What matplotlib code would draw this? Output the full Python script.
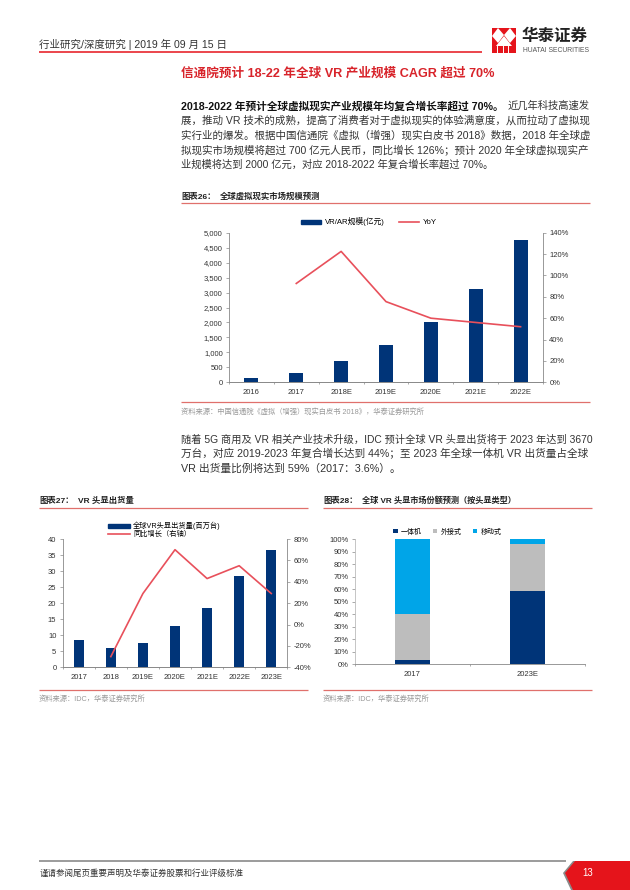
import matplotlib
matplotlib.use("Agg")
import matplotlib.pyplot as plt
from matplotlib.lines import Line2D
from matplotlib.patches import Polygon, Patch
from matplotlib.ticker import FuncFormatter

W, H = 630, 890
NAVY = "#003478"
LINE_RED = "#e8505b"
RULE_RED = "#e0706c"
GRAY_BAR = "#bdbdbd"
SKY = "#00a5e8"
TICK = "#333333"
FONT = ["Liberation Sans", "Noto Sans CJK SC"]

# figure 26
years26 = ["2016", "2017", "2018E", "2019E", "2020E", "2021E", "2022E"]
market = [150, 320, 700, 1250, 2000, 3120, 4750]
yoy26 = [None, 92.5, 122.5, 75.5, 60, 56, 52]

# figure 27
years27 = ["2017", "2018", "2019E", "2020E", "2021E", "2022E", "2023E"]
shipments = [8.4, 6.0, 7.6, 13.0, 18.4, 28.5, 36.7]
yoy27 = [None, -30, 29, 70, 43, 55, 29]

# figure 28
years28 = ["2017", "2023E"]
standalone = [3.6, 59]
tethered = [36.4, 37]
mobile = [60, 4]

header = "行业研究/深度研究 | 2019 年 09 月 15 日"
title = "信通院预计 18-22 年全球 VR 产业规模 CAGR 超过 70%"
para1_bold = "2018-2022 年预计全球虚拟现实产业规模年均复合增长率超过 70%。"
para1_tail = "近几年科技高速发"
para1 = [
    "展，推动 VR 技术的成熟，提高了消费者对于虚拟现实的体验满意度，从而拉动了虚拟现",
    "实行业的爆发。根据中国信通院《虚拟（增强）现实白皮书 2018》数据，2018 年全球虚",
    "拟现实市场规模将超过 700 亿元人民币，同比增长 126%；预计 2020 年全球虚拟现实产",
    "业规模将达到 2000 亿元，对应 2018-2022 年复合增长率超过 70%。",
]
para2 = [
    "随着 5G 商用及 VR 相关产业技术升级，IDC 预计全球 VR 头显出货将于 2023 年达到 3670",
    "万台，对应 2019-2023 年复合增长达到 44%；至 2023 年全球一体机 VR 出货量占全球",
    "VR 出货量比例将达到 59%（2017：3.6%）。",
]

fig = plt.figure(figsize=(W / 100, H / 100), dpi=100)
page = fig.add_axes([0, 0, 1, 1])
page.set_xlim(0, W)
page.set_ylim(H, 0)
page.axis("off")


def put(x, y, s, size=5.2, color="#333333", width=None, **kw):
    # y is the vertical centre in page pixels; width squeezes the text to a pixel span
    t = page.text(x, y, s, fontsize=size, color=color, family=FONT, va="center", **kw)
    if width:
        box = t.get_window_extent(fig.canvas.get_renderer())
        t.set_fontsize(size * width / box.width)
    return t


def rule(x0, x1, y, color=RULE_RED, lw=0.9):
    page.plot([x0, x1], [y, y], color=color, lw=lw, solid_capstyle="butt")


def make_axes(left, right, top, bottom):
    return fig.add_axes([left / W, 1 - bottom / H, (right - left) / W, (bottom - top) / H])


def style(ax, labels):
    ax.set_xlim(-0.5, len(labels) - 0.5)
    ax.set_xticks(range(len(labels)))
    ax.set_xticklabels(labels, fontsize=5.5, color=TICK, family=FONT)
    ax.set_xticks([i - 0.5 for i in range(len(labels) + 1)], minor=True)
    ax.tick_params(axis="x", which="major", length=0, pad=5)
    ax.tick_params(axis="x", which="minor", length=1.5, color="#888888", width=0.5)
    ax.tick_params(axis="y", length=2, color="#888888", width=0.5, labelsize=5.5, labelcolor=TICK, pad=2.5)
    for side in ax.spines:
        ax.spines[side].set_color("#888888")
        ax.spines[side].set_linewidth(0.6)
    ax.spines["top"].set_visible(False)
    for lab in ax.get_yticklabels():
        lab.set_family(FONT)


def line_points(values):
    xs = [i for i, v in enumerate(values) if v is not None]
    return xs, [values[i] for i in xs]


# header and logo
put(39, 44, header, size=6.2, width=188)
rule(39, 482, 52, color="#e5141b", lw=1.1)
page.add_patch(Polygon([(492, 28), (516, 28), (516, 53), (492, 53)], color="#e5141b", lw=0))
page.add_patch(Polygon([(498, 28), (504, 35), (498, 43), (492, 36)], color="white", lw=0))
page.add_patch(Polygon([(510, 28), (516, 36), (510, 43), (504, 35)], color="white", lw=0))
page.add_patch(Polygon([(504, 36), (512, 46), (496, 46)], color="white", lw=0))
for x in (497, 502.5, 508):
    page.plot([x, x], [46, 53], color="white", lw=0.7)
put(522, 36, "华泰证券", size=12, color="#222222", width=66, fontweight="bold")
put(523, 50, "HUATAI SECURITIES", size=5, color="#555555", width=67)

put(181, 74, title, size=9, color="#d8232a", width=312, fontweight="bold")

# first paragraph, first line is part bold
put(181, 106, para1_bold, size=7.6, color="#111111", width=322, fontweight="bold")
put(508, 106, para1_tail, size=7.6, color="#333333", width=82)
for s, y, w in zip(para1, [120, 135, 150, 165], [407, 407, 407, 311]):
    put(181, y, s, size=7.6, width=w)

# figure 26
put(181, 197, "图表26：", size=6, color="#222222", fontweight="bold")
put(220, 197, "全球虚拟现实市场规模预测", size=6, color="#222222", width=101, fontweight="bold")
rule(181, 590, 203)
ax = make_axes(229, 543, 232.7, 382.3)
ax.bar(range(7), market, width=0.31, color=NAVY)
ax.set_ylim(0, 5000)
ax.set_yticks(range(0, 5001, 500))
ax.yaxis.set_major_formatter(FuncFormatter(lambda v, _: f"{int(v):,}"))
style(ax, years26)
ax2 = ax.twinx()
ax2.plot(*line_points(yoy26), color=LINE_RED, lw=1.2)
ax2.set_ylim(0, 140)
ax2.set_yticks(range(0, 141, 20))
ax2.yaxis.set_major_formatter(FuncFormatter(lambda v, _: f"{int(v)}%"))
style(ax2, years26)
ax2.spines["left"].set_visible(False)
ax.spines["right"].set_visible(False)
ax.legend(
    [Patch(color=NAVY), Line2D([], [], color=LINE_RED, lw=1.2)],
    ["VR/AR规模(亿元)", "YoY"],
    ncol=2, frameon=False, prop={"family": FONT, "size": 5.6},
    loc="center", bbox_to_anchor=(369 / W, 1 - 222 / H), bbox_transform=fig.transFigure,
    handlelength=2.6, handleheight=0.45, handletextpad=0.5, columnspacing=1.8,
)
rule(181, 590, 402)
put(181, 412, "资料来源：中国信通院《虚拟（增强）现实白皮书 2018》，华泰证券研究所", size=5, color="#999999", width=247)

# second paragraph
for s, y, w in zip(para2, [440, 454, 469], [407, 407, 219]):
    put(181, y, s, size=7.6, width=w)

# figure 27
put(39, 501, "图表27：", size=6, color="#222222", fontweight="bold")
put(78, 501, "VR 头显出货量", size=6, color="#222222", width=56, fontweight="bold")
rule(39, 308, 508)
ax = make_axes(62.7, 287.3, 539, 667.3)
ax.bar(range(7), shipments, width=0.31, color=NAVY)
ax.set_ylim(0, 40)
ax.set_yticks(range(0, 41, 5))
style(ax, years27)
ax2 = ax.twinx()
ax2.plot(*line_points(yoy27), color=LINE_RED, lw=1.2)
ax2.set_ylim(-40, 80)
ax2.set_yticks(range(-40, 81, 20))
ax2.yaxis.set_major_formatter(FuncFormatter(lambda v, _: f"{int(v)}%"))
style(ax2, years27)
ax2.spines["left"].set_visible(False)
ax.spines["right"].set_visible(False)
ax.legend(
    [Patch(color=NAVY), Line2D([], [], color=LINE_RED, lw=1.2)],
    ["全球VR头显出货量(百万台)", "同比增长（右轴）"],
    ncol=1, frameon=False, prop={"family": FONT, "size": 5.2},
    loc="upper left", bbox_to_anchor=(107 / W, 1 - 520.5 / H), bbox_transform=fig.transFigure,
    handlelength=3.0, handleheight=0.45, handletextpad=0.4, labelspacing=0.1,
    borderpad=0.2, borderaxespad=0,
)
rule(39, 308, 690)
put(39, 699, "资料来源：IDC，华泰证券研究所", size=5, color="#999999", width=108)

# figure 28
put(323, 501, "图表28：", size=6, color="#222222", fontweight="bold")
put(362, 501, "全球 VR 头显市场份额预测（按头显类型）", size=6, color="#222222", width=156, fontweight="bold")
rule(323, 592, 508)
ax = make_axes(355, 585, 539.3, 664.3)
base_mid = standalone
base_top = [a + b for a, b in zip(standalone, tethered)]
ax.bar(range(2), standalone, width=0.31, color=NAVY, label="一体机")
ax.bar(range(2), tethered, width=0.31, bottom=base_mid, color=GRAY_BAR, label="外接式")
ax.bar(range(2), mobile, width=0.31, bottom=base_top, color=SKY, label="移动式")
ax.set_ylim(0, 100)
ax.set_yticks(range(0, 101, 10))
ax.yaxis.set_major_formatter(FuncFormatter(lambda v, _: f"{int(v)}%"))
style(ax, years28)
ax.spines["right"].set_visible(False)
ax.spines["left"].set_color("#bbbbbb")
ax.legend(
    ncol=3, frameon=False, prop={"family": FONT, "size": 5},
    loc="center", bbox_to_anchor=(447.5 / W, 1 - 532 / H), bbox_transform=fig.transFigure,
    handlelength=0.6, handleheight=0.6, handletextpad=0.5, columnspacing=1.6,
)
rule(323, 592, 690)
put(323, 699, "资料来源：IDC，华泰证券研究所", size=5, color="#999999", width=108)

# footer
rule(39, 566, 861, color="#8a8a8a", lw=1.2)
put(40, 873, "谨请参阅尾页重要声明及华泰证券股票和行业评级标准", size=5.6, color="#333333", width=203)
page.add_patch(Polygon([(573, 861), (563, 873), (571, 890), (630, 890), (630, 861)], color="#8a8a8a", lw=0))
page.add_patch(Polygon([(575, 861), (565, 873), (573, 890), (630, 890), (630, 861)], color="#e5141b", lw=0))
put(582, 873, "13", size=7, color="white")

fig.savefig("out.png", dpi=100)
